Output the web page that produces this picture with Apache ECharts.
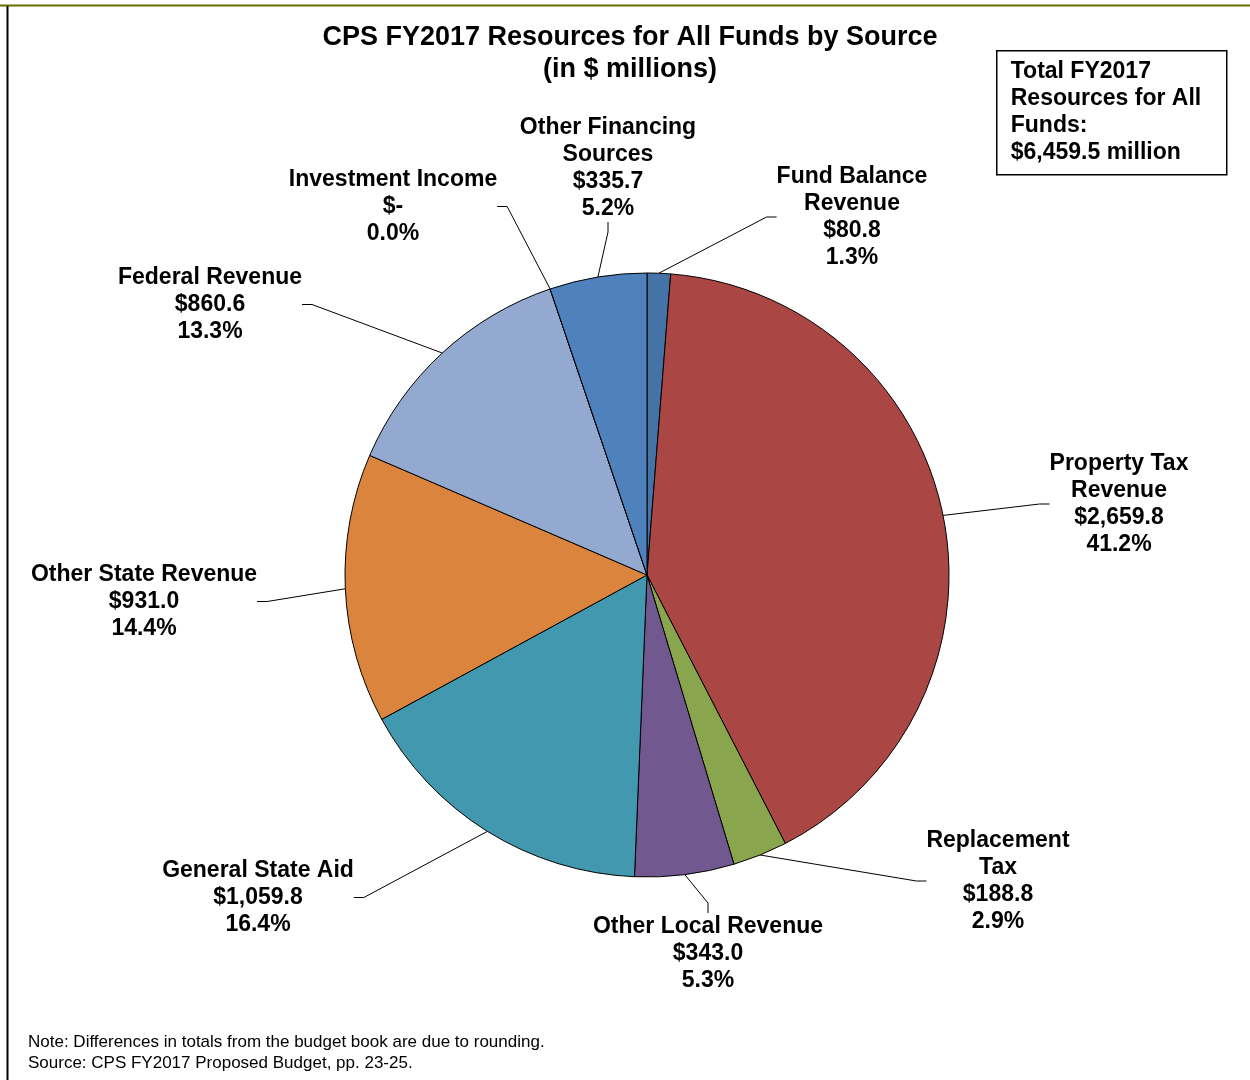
<!DOCTYPE html>
<html>
<head>
<meta charset="utf-8">
<title>CPS FY2017 Resources for All Funds by Source</title>
<script src="https://cdn.jsdelivr.net/npm/echarts@6/dist/echarts.min.js"></script>
<style>
  html, body { margin: 0; padding: 0; background: #fff; }
  #chart { width: 1250px; height: 1080px; }
</style>
</head>
<body>
<div id="chart"></div>
<script>
// data, clockwise from 12 o'clock
const sources = [
    "Fund Balance\nRevenue",
    "Property Tax\nRevenue",
    "Replacement\nTax",
    "Other Local Revenue",
    "General State Aid",
    "Other State Revenue",
    "Federal Revenue",
    "Investment Income",
    "Other Financing\nSources"
];
const amounts = [80.8, 2659.8, 188.8, 343.0, 1059.8, 931.0, 860.6, 0, 335.7];
const sliceColors = ["#4572A7", "#AA4643", "#89A54E", "#71588F", "#4198AF", "#DB843D", "#93A9CF", "#B9CDE5", "#4F81BD"];

// where each label block sits (center x, top y)
const labelSpots = [
    [852, 163], [1119, 450], [998, 827], [708, 913], [258, 857],
    [144, 561], [210, 264], [393, 166], [608, 114]
];

const total = amounts.reduce((a, b) => a + b, 0);
const fmtMoney = v => v === 0 ? "$-" : "$" + v.toLocaleString("en-US", { minimumFractionDigits: 1, maximumFractionDigits: 1 });

const chart = echarts.init(document.getElementById("chart"));
const font = "'Liberation Sans', Arial, sans-serif";

chart.setOption({
    backgroundColor: "#fff",
    animation: false,
    graphic: [
        // frame
        { type: "line", shape: { x1: 0, y1: 5.5, x2: 1250, y2: 5.5 }, style: { stroke: "#6b6b00", lineWidth: 2 } },
        { type: "line", shape: { x1: 7.5, y1: 6, x2: 7.5, y2: 1080 }, style: { stroke: "#000", lineWidth: 2 } },
        // title
        {
            type: "text", x: 630, y: 22,
            style: {
                text: "CPS FY2017 Resources for All Funds by Source\n(in $ millions)",
                font: "bold 27px " + font, fill: "#000", align: "center", lineHeight: 32
            }
        },
        // total box
        {
            type: "group", left: 996, top: 50,
            children: [
                { type: "rect", shape: { x: 0, y: 0, width: 230, height: 124 }, style: { fill: "#fff", stroke: "#000", lineWidth: 1.5 } },
                {
                    type: "text", x: 14, y: 7,
                    style: {
                        text: "Total FY2017\nResources for All\nFunds:\n$6,459.5 million",
                        font: "bold 23px " + font, fill: "#000", lineHeight: 27
                    }
                }
            ]
        },
        // notes
        {
            type: "text", left: 28, top: 1032,
            style: {
                text: "Note: Differences in totals from the budget book are due to rounding.\nSource: CPS FY2017 Proposed Budget, pp. 23-25.",
                font: "17px " + font, fill: "#000", lineHeight: 21
            }
        }
    ],
    series: [
        {
            type: "pie",
            center: [647, 575],
            radius: 302,
            startAngle: 90,
            clockwise: true,
            avoidLabelOverlap: false,
            itemStyle: { borderColor: "#000", borderWidth: 1 },
            label: {
                show: true,
                position: "outside",
                color: "#000",
                fontFamily: font,
                fontWeight: "bold",
                fontSize: 23,
                lineHeight: 27,
                align: "center",
                formatter: p => p.name + "\n" + fmtMoney(p.value) + "\n" + (p.value / total * 100).toFixed(1) + "%"
            },
            labelLine: {
                show: true,
                length: 20,
                length2: 10,
                lineStyle: { color: "#000", width: 1 }
            },
            labelLayout: p => ({
                x: labelSpots[p.dataIndex][0],
                y: labelSpots[p.dataIndex][1],
                align: "center",
                verticalAlign: "top"
            }),
            emphasis: { disabled: true },
            data: sources.map((s, i) => ({
                name: s,
                value: amounts[i],
                itemStyle: { color: sliceColors[i] }
            }))
        }
    ]
});
</script>
</body>
</html>
